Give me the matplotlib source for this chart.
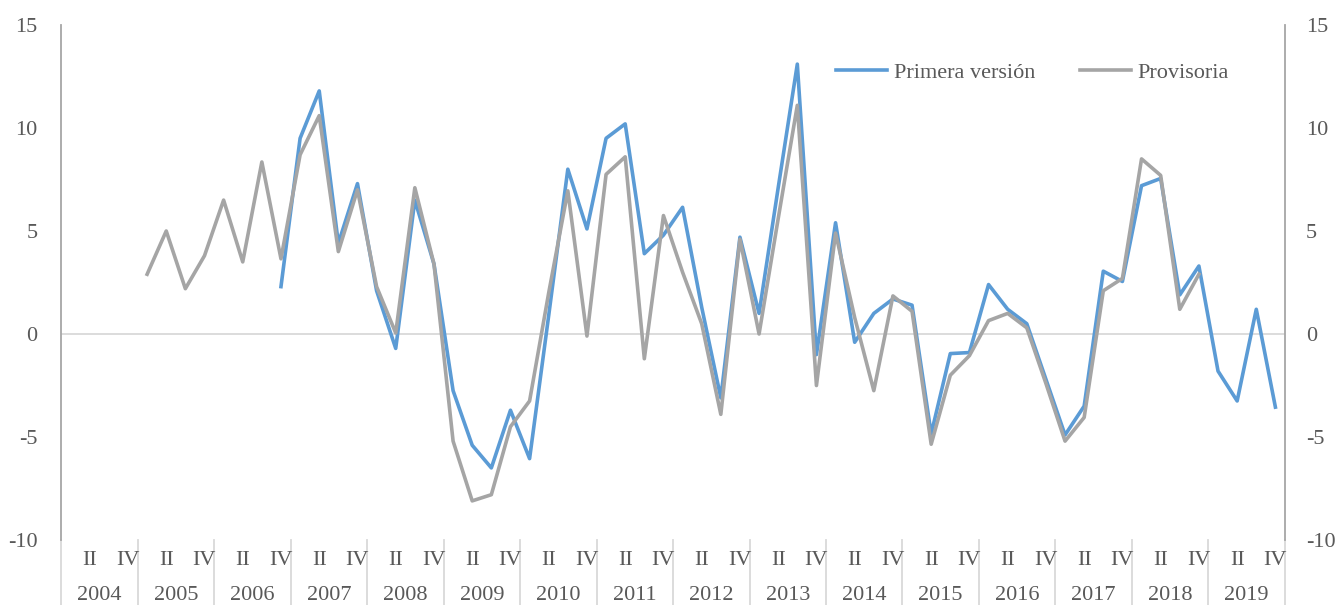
import numpy as np
import matplotlib
matplotlib.use("Agg")
import matplotlib.pyplot as plt
import matplotlib.transforms as mtransforms

plt.rcParams['font.family'] = ['Liberation Serif', 'DejaVu Serif']
plt.rcParams['axes.unicode_minus'] = False

years = [str(y) for y in range(2004, 2020)]
quarters = ['I', 'II', 'III', 'IV']

# Primera versión, 2004Q1 .. 2019Q4 (None = sin dato)
primera = [None] * 11 + [
    2.3,                              # 2006 IV
    9.5, 11.8, 4.4, 7.3,              # 2007
    2.1, -0.7, 6.5, 3.4,              # 2008
    -2.75, -5.4, -6.5, -3.7,          # 2009
    -6.05, 0.9, 8.0, 5.1,             # 2010
    9.5, 10.2, 3.9, 4.8,              # 2011
    6.15, 1.3, -3.1, 4.7,             # 2012
    1.0, 7.1, 13.1, -1.0,             # 2013
    5.4, -0.4, 1.0, 1.7,              # 2014
    1.4, -4.85, -0.95, -0.9,          # 2015
    2.4, 1.2, 0.5, -2.2,              # 2016
    -4.9, -3.5, 3.05, 2.55,           # 2017
    7.2, 7.55, 1.9, 3.3,              # 2018
    -1.8, -3.25, 1.2, -3.55,          # 2019
]

# Provisoria
provisoria = [None] * 4 + [
    2.9, 5.0, 2.2, 3.8,               # 2005
    6.5, 3.5, 8.35, 3.65,             # 2006
    8.7, 10.6, 4.0, 7.0,              # 2007
    2.3, 0.05, 7.1, 3.4,              # 2008
    -5.2, -8.1, -7.8, -4.5,           # 2009
    -3.25, 2.0, 6.95, -0.1,           # 2010
    7.75, 8.6, -1.2, 5.75,            # 2011
    3.0, 0.5, -3.9, 4.6,              # 2012
    0.0, 5.6, 11.1, -2.5,             # 2013
    4.9, 0.8, -2.75, 1.85,            # 2014
    1.1, -5.35, -2.0, -1.05,          # 2015
    0.65, 1.0, 0.3, -2.4,             # 2016
    -5.2, -4.05, 2.1, 2.7,            # 2017
    8.5, 7.7, 1.2, 2.9,               # 2018
] + [None] * 4

blue = '#5B9BD5'
grey = '#A5A5A5'
txt = '#595959'

y1 = np.array([np.nan if v is None else v for v in primera])
y2 = np.array([np.nan if v is None else v for v in provisoria])
x = np.arange(len(y1))

fig = plt.figure(figsize=(13.36, 6.05), dpi=100)
ax = fig.add_axes([0.0457, 0.1074, 0.9161, 0.8513])

ax.axhline(0, color='#D9D9D9', lw=1.3, zorder=1)
ax.plot(x, y1, color=blue, lw=2.6, label='Primera versión', zorder=3)
ax.plot(x, y2, color=grey, lw=2.6, label='Provisoria', zorder=3)

ax.set_xlim(-0.5, len(x) - 0.5)
ax.set_ylim(-10, 15)
ax.set_yticks(range(-10, 16, 5))
ax.set_xticks([])
for s in ['top', 'bottom', 'right']:
    ax.spines[s].set_visible(False)
ax.spines['left'].set_color('#A6A6A6')
ax.spines['left'].set_linewidth(1.3)
ax.tick_params(axis='y', length=0, pad=17, labelsize=16, labelcolor=txt)

ax2 = ax.twinx()
ax2.set_ylim(-10, 15)
ax2.set_yticks(range(-10, 16, 5))
for s in ['top', 'bottom', 'left']:
    ax2.spines[s].set_visible(False)
ax2.spines['right'].set_color('#A6A6A6')
ax2.spines['right'].set_linewidth(1.3)
ax2.tick_params(axis='y', length=0, pad=15, labelsize=16, labelcolor=txt)

# two-level category axis
trans = mtransforms.blended_transform_factory(ax.transData, ax.transAxes)
for i in range(len(x)):
    q = i % 4
    if q % 2 == 1:
        ax.text(i, -0.039, quarters[q], transform=trans, ha='center',
                va='center', fontsize=16, color=txt)
for k, yr in enumerate(years):
    ax.text(4 * k + 1.5, -0.107, yr, transform=trans, ha='center',
            va='center', fontsize=16, color=txt)
for k in range(len(years) + 1):
    ax.plot([4 * k - 0.5, 4 * k - 0.5], [0, -0.13], transform=trans,
            color='#D9D9D9', lw=1.3, clip_on=False)

ax.legend(ncol=2, frameon=False, loc='center',
          bbox_to_anchor=((832 + 1233) / 2 / 1336, 1 - 73 / 605),
          bbox_transform=fig.transFigure, fontsize=16, labelcolor=txt,
          handlelength=2.3, handletextpad=0.3, columnspacing=2.0)

fig.savefig('out.png', dpi=100)
